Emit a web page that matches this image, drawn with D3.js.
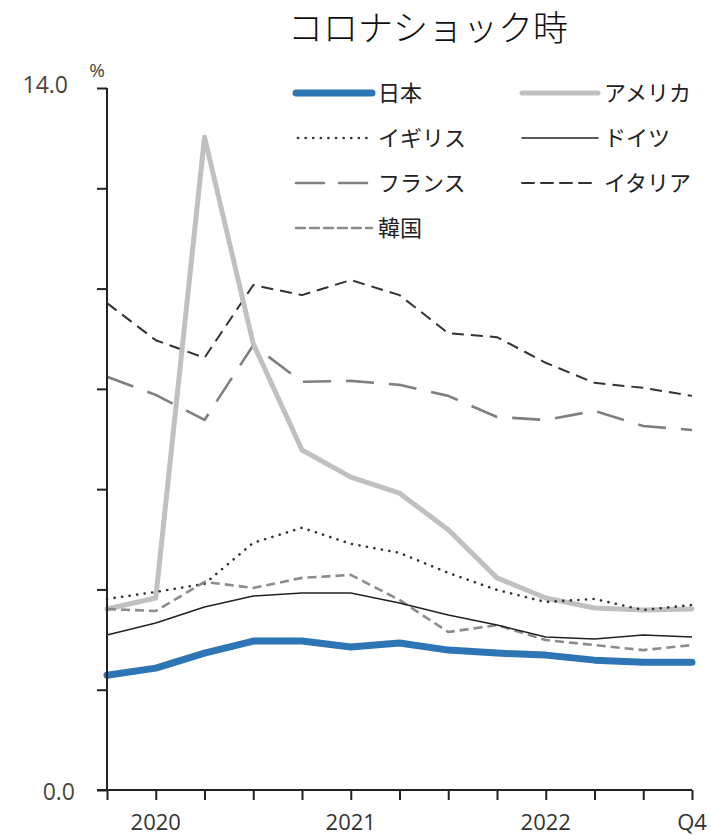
<!DOCTYPE html>
<html>
<head>
<meta charset="utf-8">
<script src="https://cdn.jsdelivr.net/npm/d3@7"></script>
<style>
  body { margin: 0; background: #fff; }
  svg text { font-family: "Noto Sans CJK JP", "Noto Sans", sans-serif; }
</style>
</head>
<body>
<script>
var quarters = ["2019Q4", "2020Q1", "2020Q2", "2020Q3", "2020Q4", "2021Q1", "2021Q2", "2021Q3", "2021Q4", "2022Q1", "2022Q2", "2022Q3", "2022Q4"];
var xLabels = {"2020Q1": "2020", "2021Q1": "2021", "2022Q1": "2022", "2022Q4": "Q4"};
var yTicks = [0, 2, 4, 6, 8, 10, 12, 14];

var japan   = [2.29, 2.43, 2.73, 2.97, 2.97, 2.85, 2.93, 2.79, 2.73, 2.69, 2.59, 2.55, 2.55];
var america = [3.61, 3.83, 13.02, 8.9, 6.78, 6.24, 5.92, 5.19, 4.23, 3.83, 3.63, 3.59, 3.61];
var britain = [3.81, 3.95, 4.11, 4.93, 5.23, 4.91, 4.73, 4.33, 3.99, 3.75, 3.81, 3.59, 3.69];
var germany = [3.09, 3.33, 3.65, 3.87, 3.93, 3.93, 3.73, 3.49, 3.29, 3.05, 3.01, 3.09, 3.05];
var france  = [8.24, 7.88, 7.38, 8.87, 8.14, 8.16, 8.08, 7.86, 7.44, 7.38, 7.56, 7.26, 7.18];
var italy   = [9.71, 8.97, 8.62, 10.07, 9.87, 10.17, 9.87, 9.11, 9.03, 8.52, 8.12, 8.02, 7.86];
var korea   = [3.61, 3.57, 4.15, 4.03, 4.23, 4.29, 3.79, 3.15, 3.29, 2.99, 2.89, 2.79, 2.89];

var series = [
  {name: "日本", values: japan, color: "#2e75b6", width: 7, dash: null, cap: "round", col: 0, row: 0},
  {name: "アメリカ", values: america, color: "#c0c0c0", width: 5, dash: null, cap: "round", col: 1, row: 0},
  {name: "イギリス", values: britain, color: "#333333", width: 2.6, dash: "0.1,7.5", cap: "round", col: 0, row: 1},
  {name: "ドイツ", values: germany, color: "#222222", width: 1.5, dash: null, cap: "butt", col: 1, row: 1},
  {name: "フランス", values: france, color: "#7f7f7f", width: 2.6, dash: "28,15", cap: "butt", col: 0, row: 2},
  {name: "イタリア", values: italy, color: "#333333", width: 2, dash: "12,7", cap: "butt", col: 1, row: 2},
  {name: "韓国", values: korea, color: "#8c8c8c", width: 2.6, dash: "9,5", cap: "butt", col: 0, row: 3}
];

var width = 711, height = 835;
var svg = d3.select("body").append("svg").attr("width", width).attr("height", height);

var x = d3.scalePoint().domain(quarters).range([107, 692]);
var y = d3.scaleLinear().domain([0, 14]).range([790, 88]);

// title
svg.append("text")
  .attr("x", 428).attr("y", 41)
  .attr("text-anchor", "middle")
  .style("font-size", "35px")
  .style("font-weight", 300)
  .style("fill", "#111")
  .text("コロナショック時");

// lines first so the axes sit on top
var line = d3.line()
  .x(function(d, i) { return x(quarters[i]); })
  .y(function(d) { return y(d); });

var draw = [series[4], series[5], series[1], series[2], series[6], series[3], series[0]];
svg.append("g").selectAll("path").data(draw).enter().append("path")
  .attr("d", function(d) { return line(d.values); })
  .attr("fill", "none")
  .attr("stroke", function(d) { return d.color; })
  .attr("stroke-width", function(d) { return d.width; })
  .attr("stroke-dasharray", function(d) { return d.dash; })
  .attr("stroke-linecap", function(d) { return d.cap; })
  .attr("stroke-linejoin", "round");

// y axis
var yAxis = d3.axisLeft(y).tickValues(yTicks).tickSize(10).tickFormat("");
var gy = svg.append("g").attr("transform", "translate(107,0)").call(yAxis);
gy.select(".domain").attr("d", "M0,88V790").attr("stroke", "#222").attr("stroke-width", 2);
gy.selectAll(".tick line").attr("stroke", "#222").attr("stroke-width", 2);

// x axis
var xAxis = d3.axisBottom(x).tickSize(10).tickFormat("");
var gx = svg.append("g").attr("transform", "translate(0,790)").call(xAxis);
gx.select(".domain").attr("d", "M97,0H692").attr("stroke", "#222").attr("stroke-width", 2);
gx.selectAll(".tick line").attr("stroke", "#222").attr("stroke-width", 2);

svg.append("g").selectAll("text").data(quarters.filter(function(q) { return xLabels[q]; })).enter().append("text")
  .attr("x", function(d) { return x(d); })
  .attr("y", 830)
  .attr("text-anchor", "middle")
  .style("font-family", "'Open Sans', sans-serif")
  .style("font-size", "22px")
  .style("fill", "#333")
  .text(function(d) { return xLabels[d]; });

svg.append("text").attr("x", 68).attr("y", 93).attr("text-anchor", "end")
  .style("font-family", "'Open Sans', sans-serif").style("font-size", "23px").style("fill", "#4a4540")
  .text(d3.format(".1f")(yTicks[yTicks.length - 1]));
svg.append("text").attr("x", 75).attr("y", 800).attr("text-anchor", "end")
  .style("font-family", "'Open Sans', sans-serif").style("font-size", "23px").style("fill", "#4a4540")
  .text(d3.format(".1f")(yTicks[0]));
svg.append("text").attr("x", 97).attr("y", 77).attr("text-anchor", "middle")
  .style("font-family", "'Open Sans', sans-serif").style("font-size", "19px").style("fill", "#4a4540")
  .text("%");

// legend
var legend = svg.append("g").selectAll("g").data(series).enter().append("g")
  .attr("transform", function(d) { return "translate(" + (d.col ? 522 : 296) + "," + [93, 138, 183, 228][d.row] + ")"; });
legend.append("line")
  .attr("x1", function(d) { return d.cap === "round" && d.dash ? 2 : 0; })
  .attr("x2", 76).attr("y1", 0).attr("y2", 0)
  .attr("stroke", function(d) { return d.color; })
  .attr("stroke-width", function(d) { return d.width; })
  .attr("stroke-dasharray", function(d) { return d.dash; })
  .attr("stroke-linecap", "round");
legend.append("text")
  .attr("x", 82).attr("y", 8)
  .style("font-size", "22px")
  .style("fill", "#222")
  .text(function(d) { return d.name; });
</script>
</body>
</html>
